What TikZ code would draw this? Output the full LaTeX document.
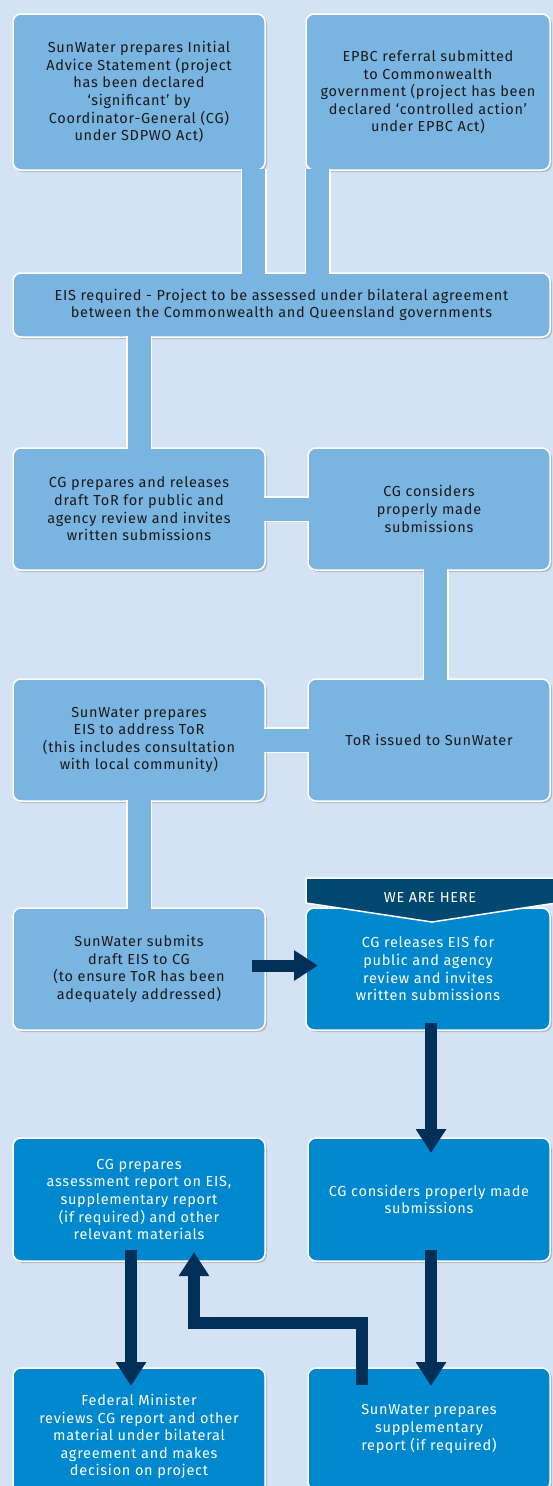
\documentclass[tikz,border=0pt]{standalone}
\usepackage{fontspec}
\setmainfont{Fira Sans}[LetterSpace=5]
\usepackage{tikz}
\usetikzlibrary{shapes,arrows.meta,positioning,shadows}
\definecolor{pagebg}{RGB}{212,227,243}
\definecolor{stepblue}{RGB}{122,181,226}
\definecolor{nowblue}{RGB}{0,136,207}
\definecolor{arrownavy}{RGB}{0,48,87}
\definecolor{tagnavy}{RGB}{0,72,112}

\begin{document}
\begin{tikzpicture}[x=1pt, y=-1pt,
    box/.style={rectangle, rounded corners=8pt, draw=white, line width=1.5pt, outer sep=0pt,
        minimum height=122pt, align=center, font=\fontsize{14.5}{17.6}\selectfont,
        drop shadow={shadow xshift=2pt, shadow yshift=-2pt, opacity=0.3, fill=black!60}},
    pale/.style={box, fill=stepblue, text=black!90},
    deep/.style={box, fill=nowblue, text=white},
    lcol/.style={minimum width=252pt},
    rcol/.style={minimum width=242pt},
    link/.style={draw=stepblue, line width=23pt, shorten <=-1pt, shorten >=-1pt,
        preaction={draw=white, line width=26pt}},
    flow/.style={draw=arrownavy, line width=12pt, line join=miter,
        -{Triangle[width=29pt,length=24pt]}}
]

% Page
\fill[pagebg] (0,0) rectangle (553,1486);
\useasboundingbox (0,0) rectangle (553,1486);

% Referral
\node[pale, lcol, minimum height=156pt] (b1) at (139,92) {SunWater prepares Initial\\Advice Statement (project\\has been declared\\‘significant’ by\\Coordinator-General (CG)\\under SDPWO Act)};
\node[pale, minimum width=244pt, minimum height=156pt] (b2) at (428,92) {EPBC referral submitted\\to Commonwealth\\government (project has been\\declared ‘controlled action’\\under EPBC Act)};
\node[pale, minimum width=537pt, minimum height=64pt] (eis) at (281.5,305) {EIS required - Project to be assessed under bilateral agreement\\between the Commonwealth and Queensland governments};

% Terms of reference
\node[pale, lcol] (b3) at (139,509) {CG prepares and releases\\draft ToR for public and\\agency review and invites\\written submissions};
\node[pale, rcol] (b4) at (429,509) {CG considers\\properly made\\submissions};
\node[pale, lcol] (b5) at (139,740) {SunWater prepares\\EIS to address ToR\\(this includes consultation\\with local community)};
\node[pale, rcol] (b6) at (429,740) {ToR issued to SunWater};

% Draft EIS
\node[pale, lcol] (b7) at (139,969) {SunWater submits\\draft EIS to CG\\(to ensure ToR has been\\adequately addressed)};
\node[deep, minimum width=244pt] (b8) at (428,969) {CG releases EIS for\\public and agency\\review and invites\\written submissions};

% Assessment
\node[deep, lcol, minimum height=123pt] (b9) at (139,1199.5) {CG prepares\\assessment report on EIS,\\supplementary report\\(if required) and other\\relevant materials};
\node[deep, rcol, minimum height=123pt] (b10) at (429,1199.5) {CG considers properly made\\submissions};
\node[deep, lcol, minimum height=137pt] (b11) at (139,1436.5) {Federal Minister\\reviews CG report and other\\material under bilateral\\agreement and makes\\decision on project};
\node[deep, rcol] (b12) at (429,1429) {SunWater prepares\\supplementary\\report (if required)};

% Links
\draw[link] ([xshift=-11.5pt]b1.south east) -- ([xshift=-11.5pt]b1.south east |- eis.north);
\draw[link] ([xshift=11.5pt]b2.south west) -- ([xshift=11.5pt]b2.south west |- eis.north);
\draw[link] (b3.north |- eis.south) -- (b3.north);
\draw[link] (b3.east) -- (b4.west);
\draw[link] ([xshift=6.5pt]b4.south) -- ([xshift=6.5pt]b6.north);
\draw[link] (b6.west) -- (b5.east);
\draw[link] (b5.south) -- (b7.north);

% Arrows
\draw[flow] ([xshift=-13pt,yshift=3.5pt]b7.east) -- ([xshift=12pt,yshift=3.5pt]b8.west);
\draw[flow] ([xshift=3pt,yshift=7pt]b8.south) -- ([xshift=2pt,yshift=-15pt]b10.north);
\draw[flow] ([xshift=-8pt,yshift=11pt]b9.south) -- ([xshift=-8pt,yshift=-18pt]b11.north);
\draw[flow] ([xshift=2pt,yshift=11pt]b10.south) -- ([xshift=2pt,yshift=-18pt]b12.north);
\draw[flow] ([xshift=-67pt,yshift=-17pt]b12.north) -- ++(0,-62.5) -| ([xshift=55pt,yshift=9pt]b9.south);

% We are here
\fill[tagnavy, draw=white, line width=1.5pt] (306,878) -- (556,878) -- (556,903) -- (432,922) -- (306,903) -- cycle;
\node[text=white, font=\fontsize{14.5}{16}\selectfont] (here) at (430,897) {WE ARE HERE};

\end{tikzpicture}
\end{document}
